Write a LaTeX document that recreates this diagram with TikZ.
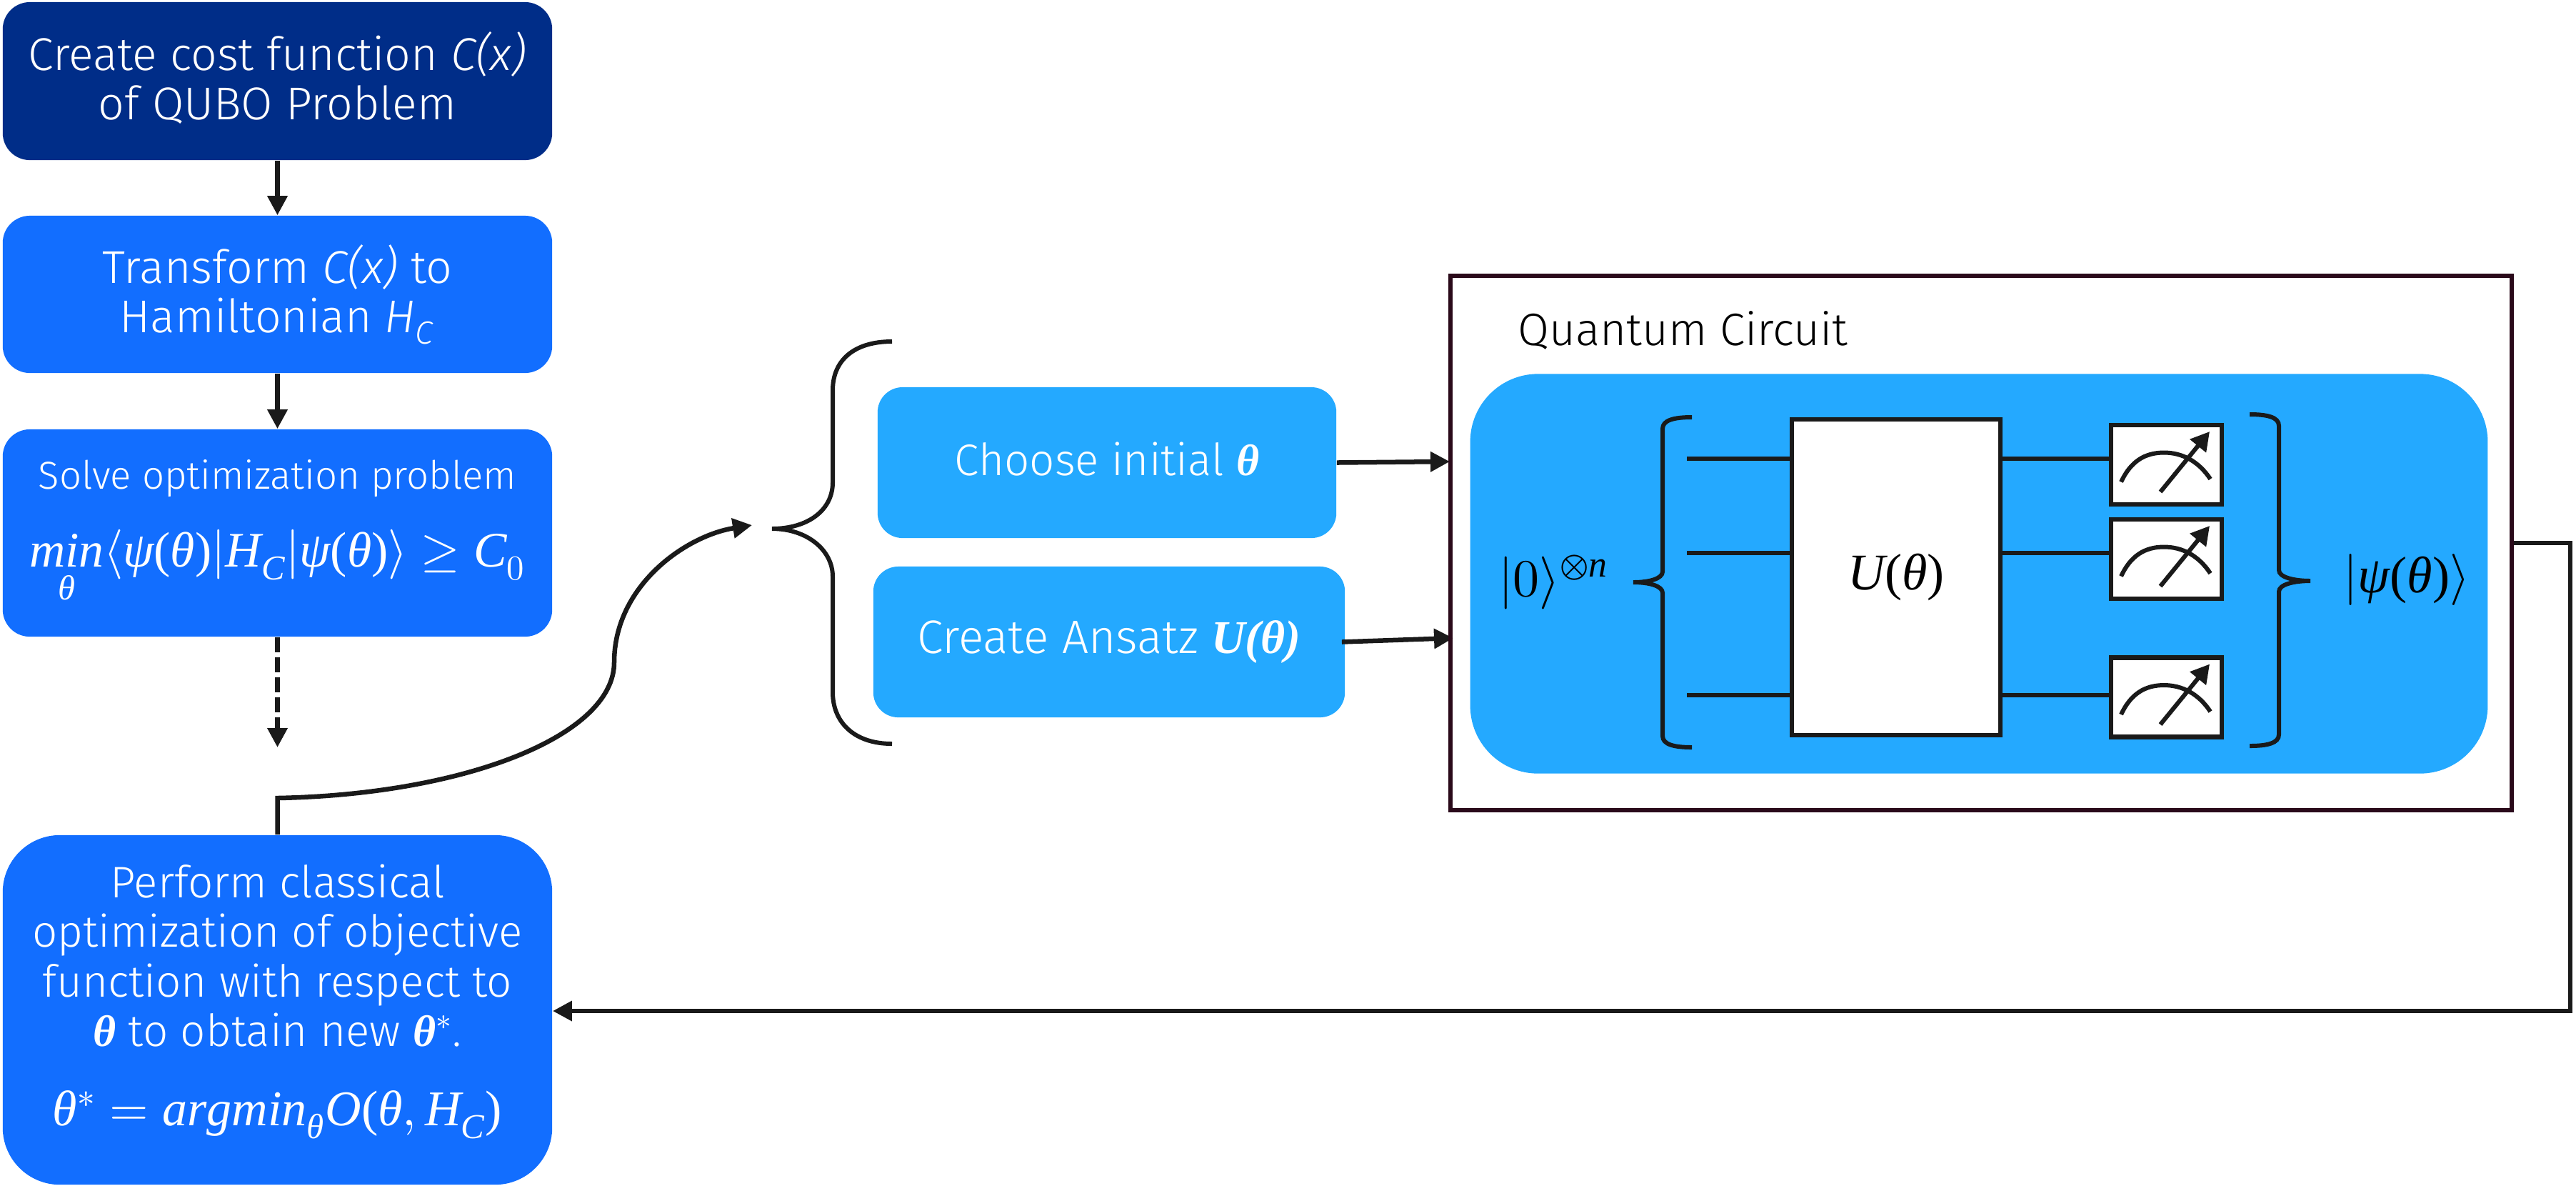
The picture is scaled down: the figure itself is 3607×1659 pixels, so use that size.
\documentclass[tikz,border=0pt]{standalone}
\usepackage{amsmath}
\usepackage{fontspec}
\usepackage{unicode-math}
\setmainfont{Fira Sans Light}[ItalicFont=Fira Sans Light Italic]
\newfontface\boldface{Liberation Serif Bold Italic}
\setmathfont{Latin Modern Math}
\setmathfont{Liberation Serif Italic}[range={it->up}]
\setmathfont{Liberation Serif}[range={"0028,"0029,"0030-"0039}]
\usetikzlibrary{arrows, arrows.meta}
\usetikzlibrary{positioning}
\usetikzlibrary{calc}
\definecolor{navybox}{HTML}{002D88}
\definecolor{bluebox}{HTML}{126EFF}
\definecolor{skybox}{HTML}{24A9FF}
\definecolor{inkline}{HTML}{1A1A1A}
\definecolor{framered}{HTML}{2A0A1A}
\tikzset{
	stepbox/.style={fill=bluebox, text=white, rounded corners=0.38cm, align=center, inner sep=0pt,
		minimum width=7.69cm, font=\fontsize{18.3}{19.7}\selectfont},
	skynode/.style={fill=skybox, text=white, rounded corners=0.35cm, inner sep=0pt,
		font=\fontsize{18.7}{19.7}\selectfont},
	conn/.style={draw=inkline, line width=0.065cm, -{Triangle[length=0.27cm,width=0.27cm]}},
	wire/.style={draw=inkline, line width=0.06cm},
	meter/.style={draw=inkline, fill=white, line width=0.065cm, minimum width=1.55cm, minimum height=1.11cm, inner sep=0pt},
}
\begin{document}
\begin{tikzpicture}[x=0.01cm,y=-0.01cm]
	\useasboundingbox (0,0) rectangle (3607,1659);
	% left column
	\node[stepbox, fill=navybox, minimum height=2.21cm] (cost) at (388.5,113.5) {Create cost function \textit{C(x)}\\of QUBO Problem\\[-15.5pt]\mbox{}};
	\node[stepbox, minimum height=2.20cm] (trans) at (388.5,412) {Transform \textit{C(x)} to\\Hamiltonian \textit{H}\textsubscript{\textit{C}}};
	\node[stepbox, minimum height=2.90cm, font=\fontsize{15.5}{18}\selectfont] (solve) at (388.5,746)
		{Solve optimization problem\\[12pt]{\fontsize{19.8}{19.7}\selectfont$\underset{\theta}{min}\langle\psi(\theta)|H_C|\psi(\theta)\rangle\geq C_0$}};
	\node[stepbox, rounded corners=0.8cm, minimum height=4.89cm, font=\fontsize{17.6}{19.7}\selectfont] (perform) at (388.5,1413.5)
		{Perform classical\\optimization of objective\\function with respect to\\{\boldface θ} to obtain new {\boldface θ}$^*$.\\[12pt]{\fontsize{19.9}{19.7}\selectfont$\theta^*=argmin_\theta O(\theta,H_C)$}\\[-8pt]\mbox{}};
	\coordinate (gap) at (388.5,1046);
	\draw[conn] (cost) -- (trans);
	\draw[conn] (trans) -- (solve);
	\draw[conn, dash pattern=on 0.21cm off 0.07cm] (solve) -- (gap);
	% middle
	\node[skynode, minimum width=6.42cm, minimum height=2.11cm, text depth=0.1cm, font=\fontsize{17.6}{19.7}\selectfont] (init) at (1550,647.5) {Choose initial {\boldface θ}};
	\node[skynode, minimum width=6.60cm, minimum height=2.11cm] (ansatz) at (1553,898.5) {Create Ansatz {\boldface U(θ)}};
	\coordinate (tipA) at (2030,646);
	\coordinate (tipB) at (2035,893);
	\coordinate (tipC) at (1053,735);
	\coordinate (bend) at (388.5,1117);
	\draw[wire] (1249,478) .. controls (1195,478) and (1166,505) .. (1166,546) -- (1166,675) .. controls (1166,715) and (1130,740) .. (1081,740) .. controls (1130,740) and (1166,770) .. (1166,807) -- (1166,969) .. controls (1166,1010) and (1195,1041) .. (1249,1041);
	\draw[conn] (perform.north) -- (bend) .. controls (650,1112) and (860,1030) .. (860,927) .. controls (860,820) and (960,750) .. (tipC);
	\draw[conn] (init.east) -- (tipA);
	\draw[conn] ([xshift=-0.05cm]ansatz.east) -- (tipB);
	% quantum circuit
	\node[draw=framered, line width=0.06cm, minimum width=14.86cm, minimum height=7.48cm, inner sep=0pt] (circuit) at (2774,760) {};
	\node[right, font=\fontsize{18.1}{19.7}\selectfont] (qctitle) at (2113,462) {Quantum Circuit};
	\node[fill=skybox, rounded corners=0.95cm, minimum width=14.24cm, minimum height=5.59cm, inner sep=0pt] (panel) at (2771,803) {};
	\node[draw=inkline, fill=white, line width=0.06cm, minimum width=2.92cm, minimum height=4.42cm, inner sep=0pt,
		font=\fontsize{20.5}{22}\selectfont] (unitary) at (2655,808) {$U(\theta)$};
	\foreach \mname/\my in {ma/650.5,mb/782.5,mc/976}{
		\node[meter] (\mname) at (3033.5,\my) {};
		\draw[wire, shift={(\mname.center)}] (-63.5,24) .. controls (-50,-5) and (-30,-17) .. (-3.5,-17) .. controls (22,-17) and (45,-5) .. (61.5,20);
		\draw[wire, shift={(\mname.center)}, -{Triangle[length=0.26cm,width=0.28cm]}] (-8.5,38) -- (60.5,-46.5);
	}
	\foreach \wname/\wy/\mname in {wa/642/ma,wb/774/mb,wc/973/mc}{
		\coordinate (\wname) at (2362,\wy);
		\draw[wire] (\wname) -- (\wname -| unitary.west);
		\draw[wire] (\wname -| unitary.east) -- (\wname -| \mname.west);
	}
	% inner braces
	\draw[wire] (2369,584) .. controls (2344,584) and (2328,588) .. (2328,600) -- (2328,800) .. controls (2328,810) and (2309,815) .. (2287,815) .. controls (2309,815) and (2328,820) .. (2328,830) -- (2328,1030) .. controls (2328,1042) and (2344,1046) .. (2369,1046);
	\draw[wire] (3150,580) .. controls (3175,580) and (3191,584) .. (3191,596) -- (3191,798) .. controls (3191,808) and (3212,813) .. (3235,813) .. controls (3212,813) and (3191,818) .. (3191,828) -- (3191,1028) .. controls (3191,1040) and (3175,1044) .. (3150,1044);
	\node[font=\fontsize{21}{22}\selectfont] (zerostate) at (2175,815) {$|0\rangle^{\otimes n}$};
	\node[font=\fontsize{20.5}{22}\selectfont] (psistate) at (3370,811) {$|\psi(\theta)\rangle$};
	% feedback
	\coordinate (outA) at (3599,760);
	\coordinate (outB) at (3599,1415);
	\draw[conn] (circuit.east |- outA) -- (outA) -- (outB) -- (outB -| perform.east);
\end{tikzpicture}
\end{document}
